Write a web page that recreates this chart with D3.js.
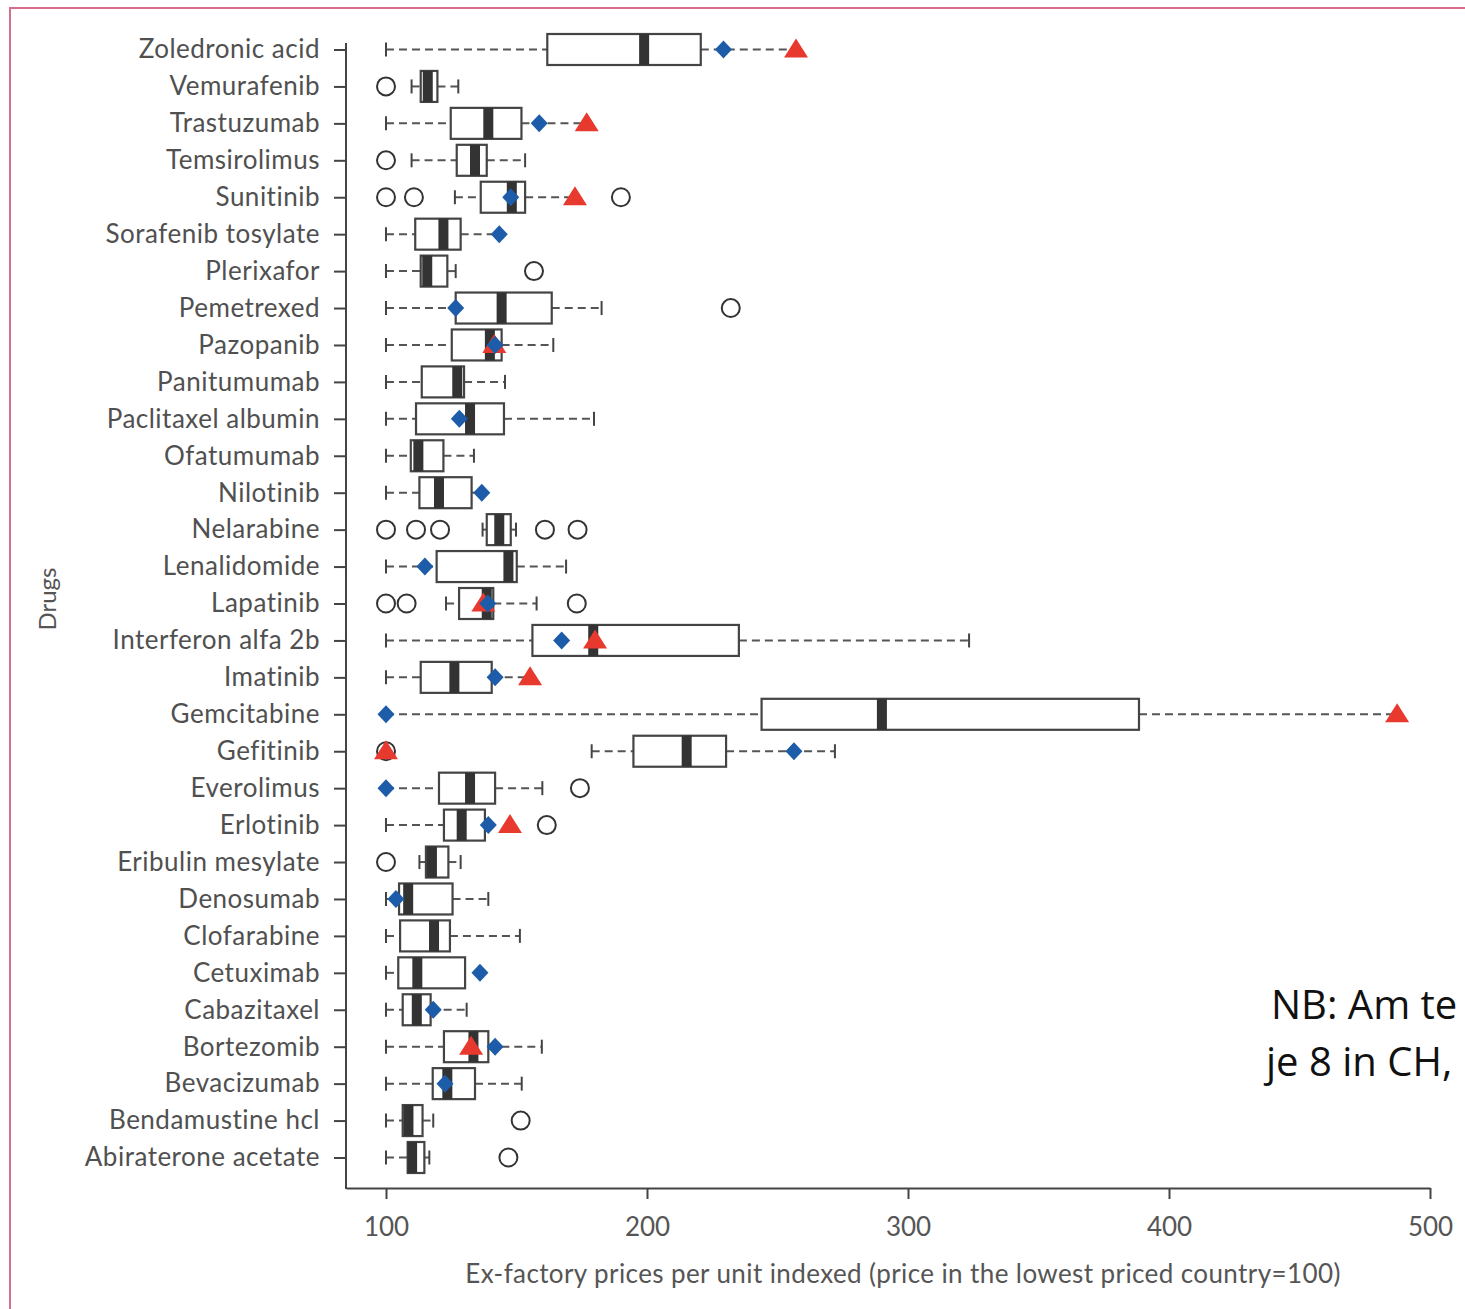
<!DOCTYPE html>
<html><head><meta charset="utf-8">
<script src="https://cdn.jsdelivr.net/npm/d3@7"></script>
<style>
body{margin:0;background:#fff;}
svg{display:block;}
</style></head><body>
<svg id="chart" width="1465" height="1309"></svg>
<script>
const drugs = ["Zoledronic acid","Vemurafenib","Trastuzumab","Temsirolimus","Sunitinib","Sorafenib tosylate","Plerixafor","Pemetrexed","Pazopanib","Panitumumab","Paclitaxel albumin","Ofatumumab","Nilotinib","Nelarabine","Lenalidomide","Lapatinib","Interferon alfa 2b","Imatinib","Gemcitabine","Gefitinib","Everolimus","Erlotinib","Eribulin mesylate","Denosumab","Clofarabine","Cetuximab","Cabazitaxel","Bortezomib","Bevacizumab","Bendamustine hcl","Abiraterone acetate"];
const whiskerLow  = [100,109.8,100,109.8,126.4,100,100,100,100,100,100,100,100,137.0,100,123.0,100,100,100,178.8,100,100,112.8,100,100,100,100,100,100,100,100];
const q1          = [161.8,113.3,124.8,127.1,136.3,111.2,113.3,126.7,125.2,113.7,111.5,109.5,112.8,138.6,119.4,128.0,156.1,113.3,243.9,194.8,120.3,122.2,115.3,105.0,105.4,104.7,106.4,122.2,117.9,106.4,108.3];
const medians     = [198.9,116.0,139.2,134.1,148.2,122.0,115.8,144.3,139.8,127.3,132.2,112.4,120.3,143.4,146.9,138.6,179.4,126.2,290.0,215.2,132.2,129.0,117.6,108.5,118.4,112.0,111.8,133.5,123.5,108.6,110.0];
const q3          = [220.6,119.7,151.9,138.6,153.3,128.6,123.5,163.5,144.3,129.9,145.2,122.0,132.8,147.8,150.1,141.1,235.2,140.5,388.5,230.3,141.8,137.9,123.9,125.5,124.5,130.3,117.1,139.2,134.1,114.0,114.7];
const whiskerHigh = [257.1,127.7,176.9,153.3,172.4,143.4,126.7,182.6,164.1,145.6,179.7,133.7,136.7,149.8,169.0,157.7,323.4,155.2,487.4,272.0,159.9,137.9,128.6,139.2,151.3,130.3,130.9,159.7,152.0,118.1,116.6];
const diamondValues  = [229.3,null,158.7,null,147.8,143.4,null,126.7,141.8,null,128.1,null,136.7,null,114.9,139.0,167.3,141.8,100,256.3,100,139.2,null,103.8,null,136.0,118.1,141.8,122.6,null,null];
const triangleValues = [257.1,null,176.9,null,172.4,null,null,null,141.5,null,null,null,null,null,null,137.3,180.1,155.2,487.4,100,null,147.5,null,null,null,null,null,132.6,null,null,null];
const outlierValues  = [[],[100],[],[100],[100,110.7,190.0],[],[156.7],[232.1],[],[],[],[],[],[100,111.5,120.7,160.9,173.4],[],[100,107.9,173.1],[],[],[],[100],[174.3],[161.6],[100],[],[],[],[],[],[],[151.6],[146.9]];
const xTicks = [100,200,300,400,500];

const svg = d3.select("#chart");
const FONT = "Lato, 'Open Sans', sans-serif";

// frame
svg.append("rect").attr("x",10).attr("y",8).attr("width",1600).attr("height",1400)
  .attr("fill","none").attr("stroke","#d66f8b").attr("stroke-width",2);

const x = d3.scaleLinear().domain([100 - 40/2.61, 500]).range([346, 1430]);
const y = d3.scalePoint().domain(drugs).range([49.5, 1157.5]);
const boxH = 31;

const rows = drugs.map((d,i)=>({drug:d, wl:whiskerLow[i], q1:q1[i], med:medians[i], q3:q3[i], wh:whiskerHigh[i], dia:diamondValues[i], tri:triangleValues[i], out:outlierValues[i]}));

// x axis
const xAxis = svg.append("g").attr("transform","translate(0,1188)")
  .call(d3.axisBottom(x).tickValues(xTicks).tickSize(11).tickSizeOuter(0).tickPadding(19));
xAxis.select(".domain").attr("stroke","#444").attr("stroke-width",2);
xAxis.selectAll(".tick line").attr("stroke","#444").attr("stroke-width",2);
xAxis.selectAll(".tick text").attr("fill","#555").style("font-family",FONT).style("font-size","26px");

// y axis
const yAxis = svg.append("g").attr("transform","translate(346,0)")
  .call(d3.axisLeft(y).tickSize(12).tickSizeOuter(0).tickPadding(14));
yAxis.select(".domain").remove();
yAxis.selectAll(".tick line").attr("stroke","#444").attr("stroke-width",2);
yAxis.selectAll(".tick text").attr("fill","#505050").style("font-family",FONT)
  .style("font-size","26px").style("letter-spacing","0.5px");
svg.append("line").attr("x1",346).attr("x2",346).attr("y1",43).attr("y2",1189)
  .attr("stroke","#444").attr("stroke-width",2);

// axis titles
svg.append("text").attr("x",903).attr("y",1283).attr("text-anchor","middle")
  .attr("fill","#555").style("font-family",FONT).style("font-size","26px").style("letter-spacing","0.4px")
  .text("Ex-factory prices per unit indexed (price in the lowest priced country=100)");
svg.append("text").attr("transform","translate(56,599) rotate(-90)").attr("text-anchor","middle")
  .attr("fill","#555").style("font-family",FONT).style("font-size","24px").text("Drugs");

const g = svg.append("g");
const row = g.selectAll("g.row").data(rows).join("g").attr("class","row")
  .attr("transform", d=>`translate(0,${y(d.drug)})`);

// whiskers (dashed)
row.filter(d=>d.wl < d.q1).append("line")
  .attr("x1",d=>x(d.wl)).attr("x2",d=>x(d.q1)).attr("y1",0).attr("y2",0)
  .attr("stroke","#555").attr("stroke-width",2).attr("stroke-dasharray","8,5");
row.filter(d=>d.wh > d.q3).append("line")
  .attr("x1",d=>x(d.q3)).attr("x2",d=>x(d.wh)).attr("y1",0).attr("y2",0)
  .attr("stroke","#555").attr("stroke-width",2).attr("stroke-dasharray","8,5");
// caps
row.filter(d=>d.wl < d.q1).append("line")
  .attr("x1",d=>x(d.wl)).attr("x2",d=>x(d.wl)).attr("y1",-7).attr("y2",7)
  .attr("stroke","#444").attr("stroke-width",2);
row.filter(d=>d.wh > d.q3).append("line")
  .attr("x1",d=>x(d.wh)).attr("x2",d=>x(d.wh)).attr("y1",-7).attr("y2",7)
  .attr("stroke","#444").attr("stroke-width",2);

// boxes
row.append("rect").attr("x",d=>x(d.q1)).attr("y",-boxH/2)
  .attr("width",d=>x(d.q3)-x(d.q1)).attr("height",boxH)
  .attr("fill","#fff").attr("stroke","#444").attr("stroke-width",2.2);
// median bands
row.append("rect").attr("x",d=>Math.max(x(d.q1), x(d.med)-5)).attr("y",-boxH/2)
  .attr("width",d=>Math.min(x(d.q3), x(d.med)+5) - Math.max(x(d.q1), x(d.med)-5))
  .attr("height",boxH).attr("fill","#333");

// outliers
row.selectAll("circle.out").data(d=>d.out).join("circle").attr("class","out")
  .attr("cx",v=>x(v)).attr("cy",0).attr("r",9)
  .attr("fill","none").attr("stroke","#333").attr("stroke-width",2);

// triangles
row.filter(d=>d.tri!=null).append("path")
  .attr("d",d=>{const cx=x(d.tri); return `M${cx},-11 L${cx+12},8 L${cx-12},8 Z`;})
  .attr("fill","#e8392f");
// diamonds
row.filter(d=>d.dia!=null).append("path")
  .attr("d",d=>{const cx=x(d.dia); return `M${cx},-9 L${cx+8.5},0 L${cx},9 L${cx-8.5},0 Z`;})
  .attr("fill","#1c5ca8");

// note text
svg.append("text").attr("x",1271).attr("y",1019).attr("fill","#111")
  .style("font-family","'Open Sans', sans-serif").style("font-size","40px").text("NB: Am te");
svg.append("text").attr("x",1266).attr("y",1076).attr("fill","#111")
  .style("font-family","'Open Sans', sans-serif").style("font-size","40px").text("je 8 in CH,");
</script>
</body></html>
